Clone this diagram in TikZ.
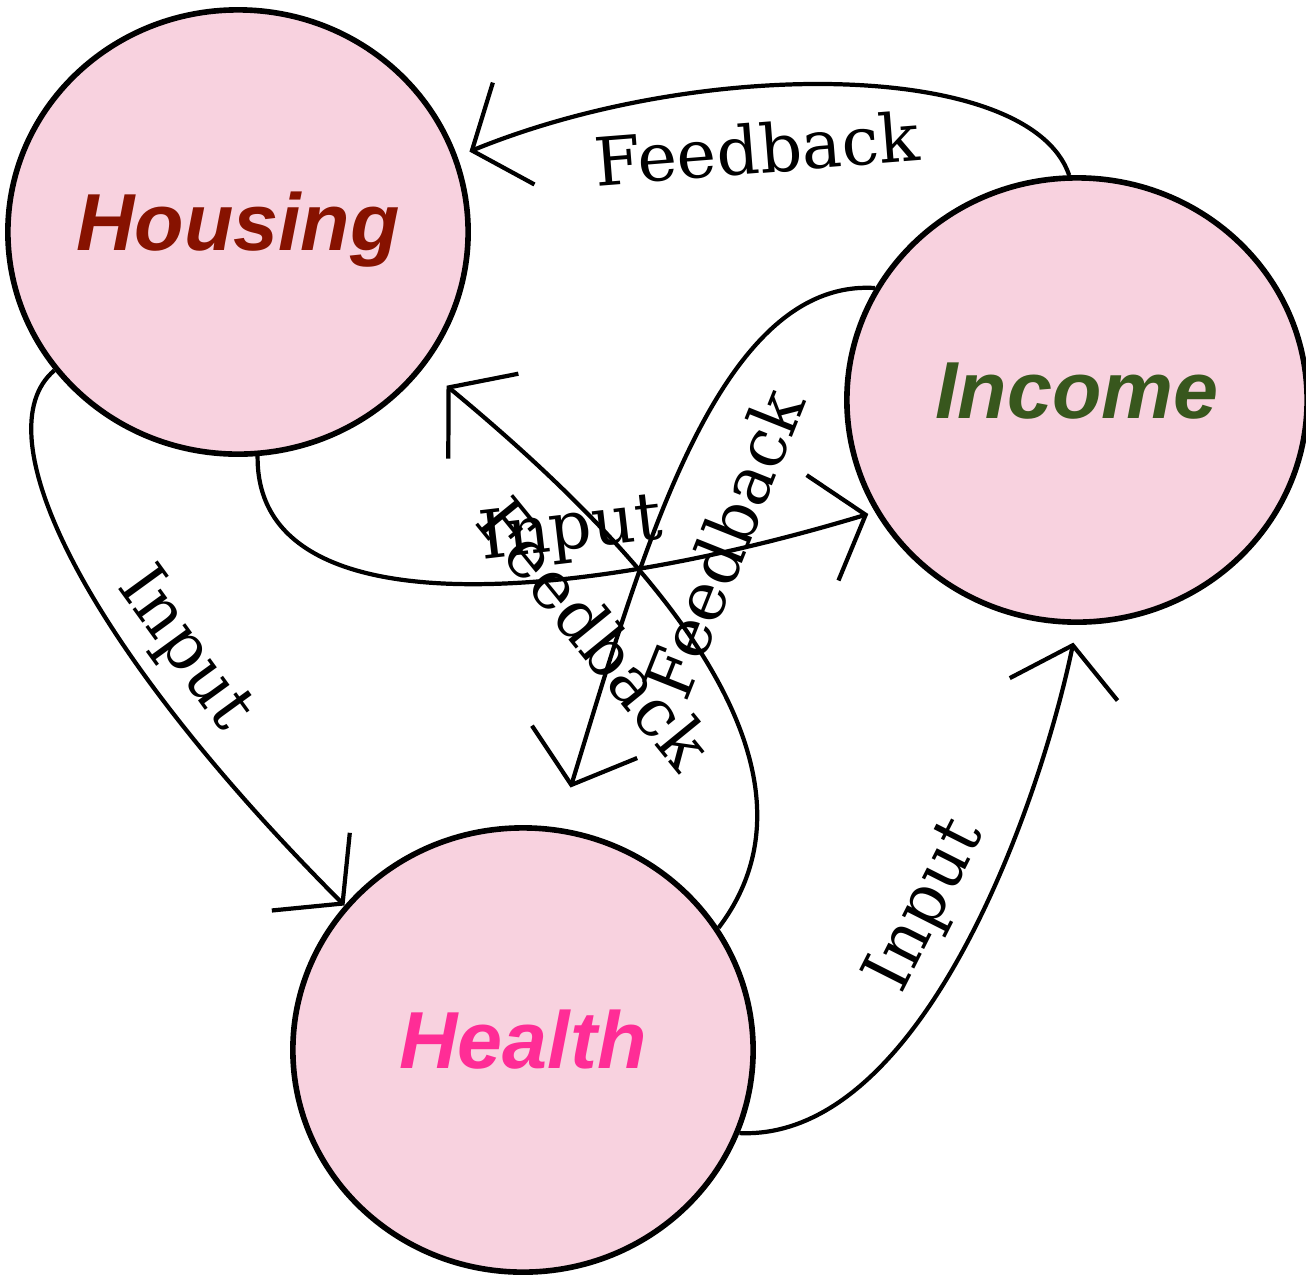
\documentclass[tikz,border=0pt]{standalone}
\usepackage{fontspec}
\setmainfont{DejaVu Serif}
\setsansfont{Liberation Sans}
\usepackage{tikz}
\usetikzlibrary{arrows.meta,shapes.geometric}

\definecolor{bubblepink}{RGB}{248,210,223}
\definecolor{housingred}{RGB}{135,18,0}
\definecolor{incomegreen}{RGB}{56,87,29}
\definecolor{healthpink}{RGB}{255,45,150}

\begin{document}
\begin{tikzpicture}[x=0.01cm, y=0.01cm]
            \tikzstyle{topic} = [draw, ellipse, line width=1.6pt, fill=bubblepink, minimum width=4.6cm, minimum height=4.44cm, inner sep=0pt, font=\sffamily\bfseries\itshape\fontsize{23}{27}\selectfont, text height=16.3pt, text depth=5.9pt]
            \tikzstyle{flow} = [line width=1.2pt, -{Straight Barb[length=4.5mm, width=11mm]}]
            \tikzstyle{edgetext} = [font=\fontsize{19}{23}\selectfont, inner sep=0pt, sloped]

            \useasboundingbox (0,0) rectangle (1306,-1275);

            \node [topic, text=housingred] (housing) at (238,-232) {Housing};
            \node [topic, text=incomegreen] (income) at (1077,-400) {Income};
            \node [topic, text=healthpink] (health) at (523,-1050) {Health};

            \draw [flow, shorten >=0.13cm] (income.92) .. controls +(-39,115) and +(245,100) .. node[edgetext, pos=0.62, below=0.33cm] (fbhousing) {Feedback} (housing.19);
            \draw [flow, shorten >=0.07cm] (housing.275) .. controls +(-2,-175) and +(-298,-90) .. node[edgetext, pos=0.66, above=0.12cm] (inincome) {Input} (income.209);
            \draw [flow, shorten >=0.42cm] (income.151) .. controls +(-158,10) and +(83,270) .. node[edgetext, pos=0.6, below=0.4cm] (fbhealth) {Feedback} (health.81);
            \draw [flow, shorten >=0.29cm] (health.32) .. controls +(113,149) and +(259,-214) .. node[edgetext, pos=0.645, below=0.44cm] (fbhousingb) {Feedback} (housing.-36);
            \draw [flow] (housing.217) .. controls +(-72,-61) and +(-266,267) .. node[edgetext, pos=0.69, above=0.13cm] (inhealth) {Input} (health.141);
            \draw [flow, shorten >=0.18cm] (health.-21) .. controls +(183,-8) and +(-37,-178) .. node[edgetext, pos=0.53, above=0.18cm] (inincomeb) {Input} (income.270);
\end{tikzpicture}
\end{document}
